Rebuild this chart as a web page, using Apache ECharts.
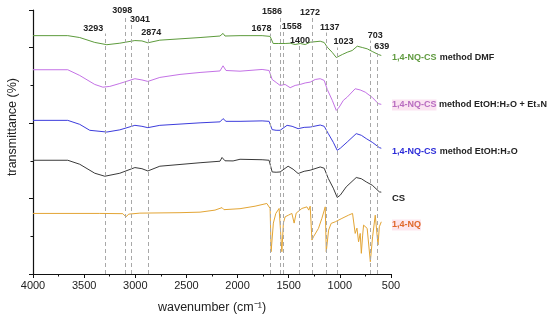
<!DOCTYPE html>
<html><head><meta charset="utf-8">
<script src="https://cdn.jsdelivr.net/npm/echarts@6/dist/echarts.min.js"></script>
<style>html,body{margin:0;padding:0;background:#fff}#c{width:550px;height:320px}</style>
</head><body><div id="c"></div>
<script>
// ---- data (wavenumber in cm-1, transmittance in offset units) ----
const greenWn = [4000,3660,3543,3396,3278,3151,3004,2935,2877,2760,2367,2172,2142,2123,1976,1760,1682,1652,1603,1584,1535,1486,1437,1388,1339,1290,1192,1153,1123,1074,1035,1016,976,928,879,830,781,732,683,624,595];
const greenT  = [3.16,3.16,3.135,3.07,3.04,3.06,3.095,3.09,3.065,3.10,3.135,3.155,3.19,3.155,3.16,3.16,3.15,3.056,3.056,3.03,3.056,3.06,3.042,3.056,3.042,3.073,3.086,3.069,3.007,2.937,2.87,2.857,2.91,2.94,2.963,3.02,3.003,2.985,2.95,2.91,2.897];

const pinkWn = [4000,3660,3543,3396,3317,3249,3151,3004,2935,2877,2760,2563,2367,2172,2142,2113,1976,1760,1692,1662,1623,1584,1535,1486,1437,1388,1339,1290,1241,1192,1153,1123,1074,1035,1006,966,928,850,801,752,683,624,595];
const pinkT  = [2.708,2.708,2.632,2.513,2.477,2.487,2.526,2.589,2.573,2.553,2.606,2.646,2.672,2.692,2.76,2.698,2.689,2.712,2.698,2.579,2.54,2.50,2.513,2.47,2.50,2.513,2.533,2.544,2.579,2.589,2.566,2.447,2.302,2.169,2.213,2.302,2.345,2.456,2.44,2.411,2.341,2.258,2.249];

const blueWn = [4000,3660,3543,3445,3278,3151,3004,2935,2877,2760,2367,2172,2142,2113,1976,1760,1692,1662,1623,1584,1516,1467,1408,1349,1290,1192,1153,1113,1064,1026,996,928,840,790,742,683,614,595];
const blueT  = [2.037,2.037,1.984,1.905,1.882,1.911,1.971,1.958,1.94,1.971,2.004,2.017,2.06,2.024,2.024,2.03,2.024,1.914,1.905,1.905,1.971,1.958,1.927,1.944,1.948,1.975,1.958,1.861,1.746,1.64,1.667,1.75,1.861,1.839,1.795,1.746,1.676,1.667];

const csWn = [4000,3660,3543,3396,3298,3151,3004,2935,2877,2760,2367,2172,2152,2123,2044,1976,1760,1692,1662,1623,1584,1506,1457,1408,1349,1290,1192,1153,1113,1064,1026,996,938,840,790,742,683,614,595];
const csT  = [1.508,1.508,1.455,1.336,1.296,1.336,1.411,1.396,1.366,1.429,1.475,1.495,1.545,1.501,1.499,1.521,1.515,1.508,1.353,1.349,1.353,1.429,1.389,1.332,1.362,1.376,1.419,1.402,1.266,1.138,1.015,1.045,1.155,1.279,1.263,1.221,1.177,1.089,1.085];

const nqWn = [4000,3347,3122,3092,3063,2955,2563,2367,2221,2152,2133,1976,1829,1714,1682,1672,1650,1626,1594,1567,1552,1535,1503,1469,1447,1427,1371,1322,1304,1290,1273,1258,1209,1176,1143,1133,1110,1085,1045,980,915,876,859,850,833,817,801,790,777,768,751,733,702,680,654,637,627,614,595];
const nqT  = [0.803,0.803,0.80,0.758,0.794,0.807,0.813,0.82,0.847,0.88,0.853,0.866,0.899,0.935,0.869,0.295,0.675,0.803,0.869,0.295,0.675,0.758,0.78,0.803,0.675,0.807,0.869,0.89,0.847,0.899,0.45,0.493,0.605,0.737,0.89,0.295,0.582,0.671,0.692,0.737,0.78,0.803,0.807,0.538,0.608,0.427,0.538,0.274,0.516,0.648,0.626,0.605,0.163,0.493,0.78,0.803,0.384,0.626,0.692];

const peaks = [3293,3098,3041,2874,1678,1586,1558,1400,1272,1137,1023,703,639];
const xTicks = [500,1000,1500,2000,2500,3000,3500,4000];

// ---- layout for peak annotations (line top in axis units, label x shift in px) ----
const peakTop = [3.188,3.426,3.307,3.135,3.188,3.413,3.214,3.029,3.399,3.201,3.003,3.095,2.937];
const peakDx  = [-12,-3,9,3,-9,-8,9,1,-2,4,6,5,5];

const FONT = '"Liberation Sans", Arial, sans-serif';
const pair = (w, t) => w.map((x, i) => [x, t[i]]);
const lineSeries = (name, w, t, color) => ({
  name, type: 'line', data: pair(w, t), symbol: 'none', smooth: false,
  lineStyle: { color, width: 1 }, silent: true, animation: false, z: 3
});

const chart = echarts.init(document.getElementById('c'), null, { renderer: 'canvas' });
chart.setOption({
  animation: false,
  backgroundColor: '#fff',
  grid: { left: 33, right: 159, top: 10, bottom: 46 },
  xAxis: {
    type: 'value', inverse: true, min: 500, max: 4000, interval: 500,
    axisLine: { show: true, lineStyle: { color: '#111', width: 1 } },
    axisTick: { show: true, length: 4, lineStyle: { color: '#111' } },
    minorTick: { show: true, splitNumber: 2, length: 2.5, lineStyle: { color: '#111' } },
    splitLine: { show: false },
    axisLabel: { color: '#222', fontSize: 11, fontFamily: FONT, margin: 6,
      formatter: v => xTicks.includes(v) ? String(v) : '' },
    name: 'wavenumber (cm\u207B\u00B9)', nameLocation: 'middle', nameGap: 27,
    nameTextStyle: { fontSize: 12.5, color: '#222', fontFamily: FONT }
  },
  yAxis: {
    type: 'value', min: 0, max: 3.5, interval: 1,
    axisLine: { show: true, lineStyle: { color: '#111', width: 1.2 } },
    axisTick: { show: true, length: 4, lineStyle: { color: '#111' } },
    minorTick: { show: true, splitNumber: 2, length: 2.5, lineStyle: { color: '#111' } },
    splitLine: { show: false },
    axisLabel: { show: false }
  },
  graphic: [
    { type: 'text', x: 13, y: 127, rotation: Math.PI / 2,
      style: { text: 'transmittance (%)', fill: '#222', font: '12.5px ' + FONT, textAlign: 'center', textVerticalAlign: 'middle' } },
    { type: 'text', x: 392, y: 58, style: { text: '{a|1,4-NQ-CS} {b|method DMF}', textVerticalAlign: 'middle',
      rich: { a: { fill: '#5f9a3f', font: 'bold 9px ' + FONT }, b: { fill: '#222', font: 'bold 9px ' + FONT } } } },
    { type: 'text', x: 392, y: 105, style: { text: '{a|1,4-NQ-CS}{b| method EtOH:H\u2082O + Et\u2083N}', textVerticalAlign: 'middle',
      rich: { a: { fill: '#b86cc0', font: 'bold 9px ' + FONT, backgroundColor: '#fbe4f1', padding: [1, 0] }, b: { fill: '#222', font: 'bold 9px ' + FONT } } } },
    { type: 'text', x: 392, y: 152, style: { text: '{a|1,4-NQ-CS} {b|method EtOH:H\u2082O}', textVerticalAlign: 'middle',
      rich: { a: { fill: '#2a2ad8', font: 'bold 9px ' + FONT }, b: { fill: '#222', font: 'bold 9px ' + FONT } } } },
    { type: 'text', x: 392, y: 198, style: { text: 'CS', fill: '#222', font: 'bold 9.5px ' + FONT, textVerticalAlign: 'middle' } },
    { type: 'text', x: 392, y: 225, style: { text: '{a|1,4-NQ}', textVerticalAlign: 'middle',
      rich: { a: { fill: '#e0682c', font: 'bold 9px ' + FONT, backgroundColor: '#fde6ee', padding: [1, 0] } } } }
  ],
  series: [
    {
      name: 'peaks', type: 'line', data: [], z: 1, silent: true,
      markLine: {
        silent: true, symbol: 'none', animation: false,
        lineStyle: { color: '#a8a8a8', width: 1, type: [4, 3] },
        label: { show: true, position: 'end', distance: 1, color: '#222', fontSize: 9, fontWeight: 'bold', fontFamily: FONT },
        data: peaks.map((p, i) => [
          { coord: [p, 0] },
          { coord: [p, peakTop[i]], label: { formatter: String(p), offset: [peakDx[i], 0] } }
        ])
      }
    },
    lineSeries('1,4-NQ-CS method DMF', greenWn, greenT, '#5d9b3c'),
    lineSeries('1,4-NQ-CS method EtOH:H2O + Et3N', pinkWn, pinkT, '#c472e6'),
    lineSeries('1,4-NQ-CS method EtOH:H2O', blueWn, blueT, '#3c3cdc'),
    lineSeries('CS', csWn, csT, '#3a3a3a'),
    lineSeries('1,4-NQ', nqWn, nqT, '#e3a535')
  ]
});
</script></body></html>
